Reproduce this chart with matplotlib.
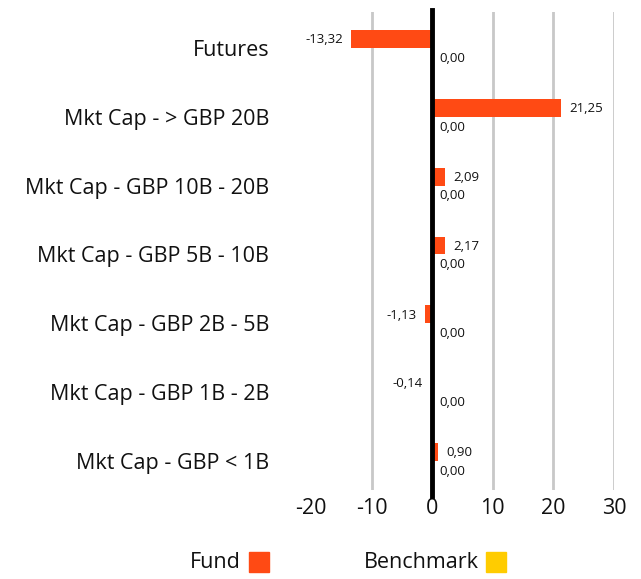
import matplotlib.pyplot as plt
import numpy as np

categories = ['Futures', 'Mkt Cap - > GBP 20B', 'Mkt Cap - GBP 10B - 20B',
              'Mkt Cap - GBP 5B - 10B', 'Mkt Cap - GBP 2B - 5B',
              'Mkt Cap - GBP 1B - 2B', 'Mkt Cap - GBP < 1B']
fund = [-13.32, 21.25, 2.09, 2.17, -1.13, -0.14, 0.90]
benchmark = [0.00, 0.00, 0.00, 0.00, 0.00, 0.00, 0.00]
xticks = [-20, -10, 0, 10, 20, 30]

fund_color = '#ff4a14'
bench_color = '#ffcc00'

plt.rcParams['font.family'] = ['Open Sans', 'DejaVu Sans']

W, H = 641, 579
fig = plt.figure(figsize=(W / 100, H / 100), dpi=100)
# axes box in pixels: x from 311 to 614, y from 12 to 490
ax = fig.add_axes([311 / W, 1 - 490 / H, (614 - 311) / W, (490 - 12) / H])

y = np.arange(len(categories))
bh = 0.26
ax.barh(y - 0.13, fund, height=bh, color=fund_color, zorder=2)
ax.barh(y + 0.13, benchmark, height=bh, color=bench_color, zorder=2)

ax.set_xlim(-20, 30)
ax.set_ylim(6.42, -0.52)
ax.set_yticks(y)
ax.set_yticklabels(categories, fontsize=15.5, color='#111111')
ax.set_xticks(xticks)
ax.set_xticklabels([str(t) for t in xticks], fontsize=15.5, color='#111111')
ax.tick_params(length=0, pad=6)
ax.tick_params(axis='y', pad=30)

for t in xticks[1:]:
    if t == 0:
        continue
    ax.axvline(t, color='#c8c8c8', lw=2, zorder=1)
ax.plot([0, 0], [-0.55, 6.5], color='black', lw=3.5, zorder=3, clip_on=False)

for s in ax.spines.values():
    s.set_visible(False)

def fmt(v):
    return f'{v:.2f}'.replace('.', ',')

for i, v in enumerate(fund):
    if v >= 0:
        ax.annotate(fmt(v), (max(v, 0.5), i - 0.12), xytext=(6, 0), textcoords='offset points',
                    ha='left', va='center', fontsize=9.5, color='#111111')
    else:
        ax.annotate(fmt(v), (v, i - 0.12), xytext=(-6, 0), textcoords='offset points',
                    ha='right', va='center', fontsize=9.5, color='#111111')
for i, v in enumerate(benchmark):
    ax.annotate(fmt(v), (v, i + 0.15), xytext=(5, 0), textcoords='offset points',
                ha='left', va='center', fontsize=9.5, color='#111111')

# legend along the bottom
fig.text(241 / W, 1 - 563 / H, 'Fund', ha='right', va='center', fontsize=15.5, color='#111111')
fig.patches.append(plt.Rectangle((249 / W, 1 - 572 / H), 20 / W, 20 / H,
                                 transform=fig.transFigure, color=fund_color))
fig.text(479 / W, 1 - 563 / H, 'Benchmark', ha='right', va='center', fontsize=15.5, color='#111111')
fig.patches.append(plt.Rectangle((486 / W, 1 - 572 / H), 20 / W, 20 / H,
                                 transform=fig.transFigure, color=bench_color))

fig.savefig('out.png', dpi=100)
